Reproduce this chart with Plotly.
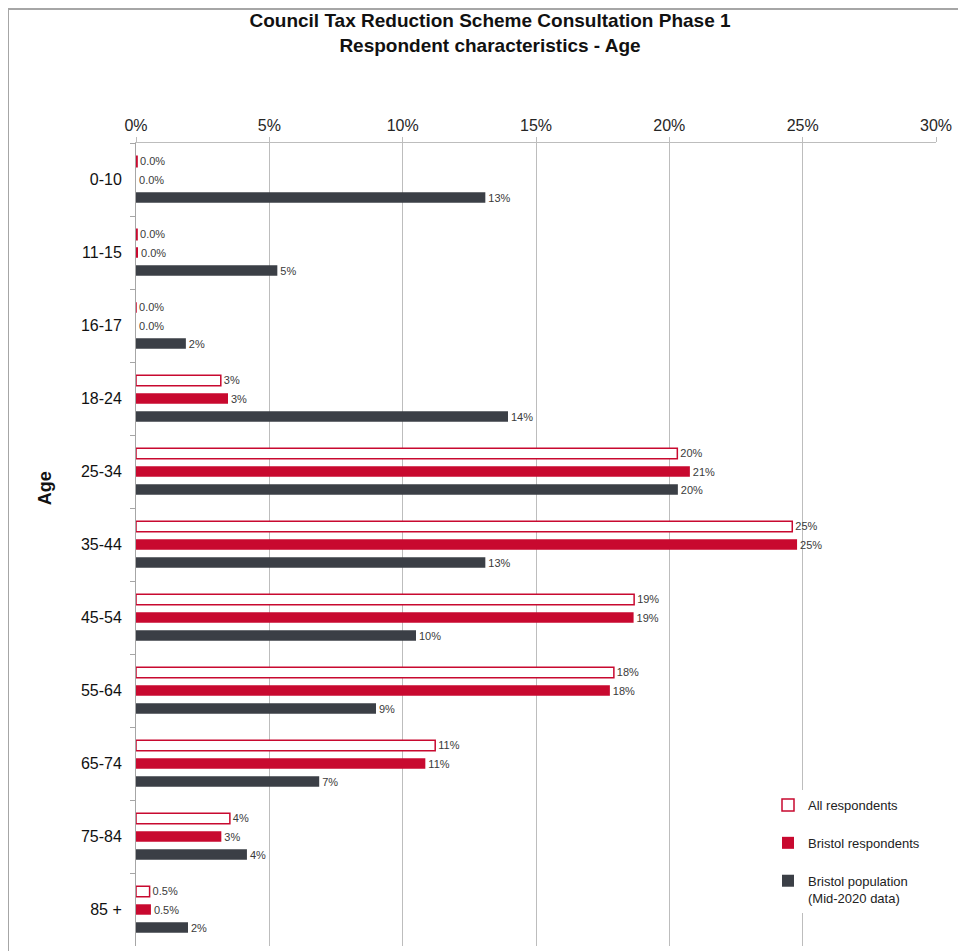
import plotly.graph_objects as go

categories = ["0-10", "11-15", "16-17", "18-24", "25-34", "35-44",
              "45-54", "55-64", "65-74", "75-84", "85 +"]

all_respondents = [0.04, 0.04, 0.0, 3.18, 20.3, 24.61, 18.68, 17.92, 11.22, 3.52, 0.51]
bristol_respondents = [0.0, 0.04, 0.0, 3.45, 20.77, 24.79, 18.66, 17.77, 10.85, 3.2, 0.56]
bristol_population = [13.1, 5.3, 1.87, 13.95, 20.32, 13.1, 10.5, 9.0, 6.87, 4.16, 1.95]

all_labels = ["0.0%", "0.0%", "0.0%", "3%", "20%", "25%", "19%", "18%", "11%", "4%", "0.5%"]
bristol_labels = ["0.0%", "0.0%", "0.0%", "3%", "21%", "25%", "19%", "18%", "11%", "3%", "0.5%"]
population_labels = ["13%", "5%", "2%", "14%", "20%", "13%", "10%", "9%", "7%", "4%", "2%"]

x_tickvals = [0, 5, 10, 15, 20, 25, 30]
x_ticktext = ["0%", "5%", "10%", "15%", "20%", "25%", "30%"]

RED = "#C8092F"
DARK = "#3B3F46"
FONT = "Liberation Sans, Arial, sans-serif"

fig = go.Figure()
common = dict(orientation="h", textposition="outside", cliponaxis=False,
              constraintext="none",
              textfont=dict(size=11, color="#3A3A3A", family=FONT))
fig.add_trace(go.Bar(y=categories, x=all_respondents, text=all_labels,
                     name="All respondents", legendgroup="a",
                     marker=dict(color="white", line=dict(color=RED, width=1.5)),
                     **common))
fig.add_trace(go.Bar(y=categories, x=bristol_respondents, text=bristol_labels,
                     name="Bristol respondents", legendgroup="b",
                     marker=dict(color=RED, line=dict(width=0)),
                     **common))
fig.add_trace(go.Bar(y=categories, x=bristol_population, text=population_labels,
                     name="Bristol population<br>(Mid-2020 data)", legendgroup="c",
                     marker=dict(color=DARK, line=dict(width=0)),
                     **common))

fig.update_layout(
    width=966, height=951,
    margin=dict(l=128, r=38, t=135, b=13),
    paper_bgcolor="white", plot_bgcolor="white",
    font=dict(family=FONT, color="#222222"),
    barmode="group", bargap=0.26, bargroupgap=0.42,
    title=dict(text="<b>Council Tax Reduction Scheme Consultation Phase 1<br>Respondent characteristics - Age</b>",
               x=0.499, xref="container", xanchor="center",
               y=1 - 19 / 951, yref="container", yanchor="top",
               font=dict(size=19, color="#111111", family=FONT)),
    xaxis=dict(side="top", range=[0, 30], tickvals=x_tickvals, ticktext=x_ticktext,
               showgrid=True, gridcolor="#BDBDBD", gridwidth=1,
               showline=True, linecolor="#BDBDBD", linewidth=1,
               ticks="outside", ticklen=5, tickcolor="#BDBDBD",
               tickfont=dict(size=16, color="#262626"), zeroline=False,
               fixedrange=True),
    yaxis=dict(autorange="reversed", showline=True, linecolor="#A6A6A6", linewidth=1,
               ticks="outside", ticklen=5, tickcolor="#A6A6A6", tickson="boundaries",
               tickfont=dict(size=16, color="#111111"), ticklabelstandoff=10,
               showgrid=False),
    legend=dict(x=0.79, y=0.1943, xanchor="left", yanchor="top",
                bgcolor="white", font=dict(size=13, color="#222222"),
                tracegroupgap=18, valign="top", traceorder="grouped"),
    shapes=[
        dict(type="line", xref="paper", yref="paper",
             x0=-0.16, x1=1.05, y0=1.1669, y1=1.1669,
             line=dict(color="#A6A6A6", width=2)),
        dict(type="line", xref="paper", yref="paper",
             x0=-0.16, x1=-0.16, y0=1.1669, y1=-0.03,
             line=dict(color="#A6A6A6", width=2)),
    ],
    annotations=[
        dict(text="<b>Age</b>", xref="paper", yref="paper",
             x=-0.11375, y=0.570, textangle=-90, showarrow=False,
             font=dict(size=18, color="#111111", family=FONT),
             xanchor="center", yanchor="middle"),
    ],
)

fig.write_html("out.html")
